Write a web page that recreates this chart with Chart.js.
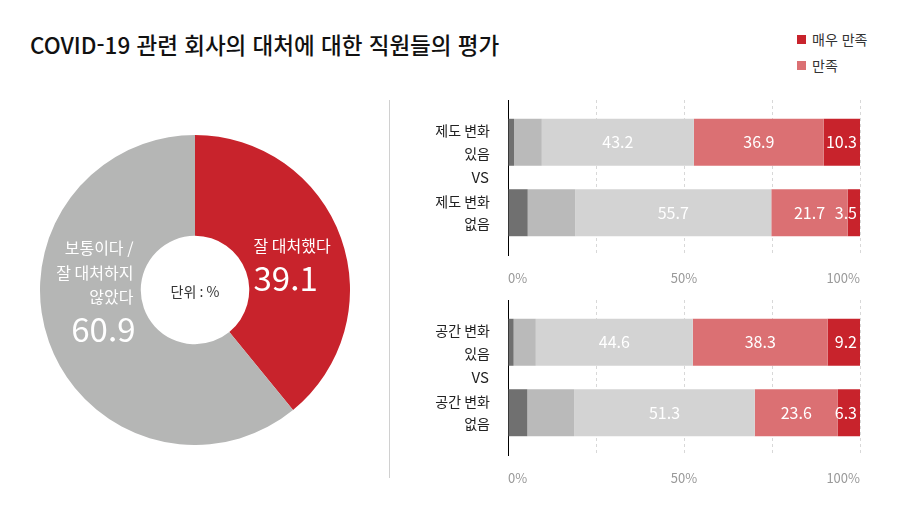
<!DOCTYPE html>
<html lang="ko">

<head>
    <meta charset="UTF-8">
    <title>COVID-19 관련 회사의 대처에 대한 직원들의 평가</title>
    <script src="https://cdn.jsdelivr.net/npm/chart.js"></script>
    <style>
        body {
            margin: 0;
            width: 900px;
            height: 510px;
            background: #fff;
            font-family: "Noto Sans CJK KR", sans-serif;
            position: relative;
            overflow: hidden;
        }

        #title {
            position: absolute;
            left: 30px;
            top: 28px;
            font-size: 22.5px;
            font-weight: 500;
            color: #111;
        }

        #legend {
            position: absolute;
            left: 797px;
            top: 29px;
            font-size: 14px;
            color: #333;
        }

        #legend div {
            height: 26px;
            line-height: 20px;
        }

        #legend span {
            display: inline-block;
            width: 9px;
            height: 9px;
            margin-right: 6px;
            vertical-align: 1px;
        }

        #divider {
            position: absolute;
            left: 389px;
            top: 100px;
            width: 1px;
            height: 378px;
            background: #d0d0d0;
        }

        canvas {
            position: absolute;
        }
    </style>
</head>

<body>
    <div id="title">COVID-19 관련 회사의 대처에 대한 직원들의 평가</div>
    <div id="legend"></div>
    <div id="divider"></div>
    <canvas id="pieChart" width="310" height="310" style="left:40px; top:135px;"></canvas>
    <canvas id="policyChart" width="465" height="190" style="left:400px; top:100px;"></canvas>
    <canvas id="spaceChart" width="465" height="190" style="left:400px; top:300px;"></canvas>

    <script>
        // pie: overall evaluation (%)
        const pieLabels = [['잘 대처했다'], ['보통이다 /', '잘 대처하지', '않았다']];
        const pieValues = [39.1, 60.9];
        const unitLabel = '단위 : %';

        // bars: satisfaction by change (%)
        const segmentNames = ['매우 불만족', '불만족', '보통', '만족', '매우 만족'];
        const policyCats = [['제도 변화', '있음'], ['제도 변화', '없음']];
        const spaceCats = [['공간 변화', '있음'], ['공간 변화', '없음']];
        const policyYes = [1.7, 7.9, 43.2, 36.9, 10.3];
        const policyNo = [5.6, 13.5, 55.7, 21.7, 3.5];
        const spaceYes = [1.6, 6.3, 44.6, 38.3, 9.2];
        const spaceNo = [5.5, 13.3, 51.3, 23.6, 6.3];
        const xTicks = [0, 50, 100];
        const vsLabel = 'VS';
        const legendNames = ['매우 만족', '만족'];

        const segmentColors = ['#707070', '#bababa', '#d3d3d3', '#db7073', '#c8232c'];
        const pieColors = ['#c8232c', '#b5b6b5'];
        const labeledSegments = [2, 3, 4];

        Chart.defaults.font.family = '"Noto Sans CJK KR", sans-serif';

        // pie labels, placed from each arc's centroid
        const labelOffsets = [
            { dx: -40, dy: -9, align: 'left' },
            { dx: 37, dy: -77, align: 'right' }
        ];
        const pieLabelPlugin = {
            id: 'pieLabels',
            afterDatasetsDraw(chart) {
                const ctx = chart.ctx;
                const meta = chart.getDatasetMeta(0);
                ctx.save();
                ctx.fillStyle = '#fff';
                ctx.textBaseline = 'middle';
                meta.data.forEach((arc, i) => {
                    const p = arc.tooltipPosition();
                    const off = labelOffsets[i];
                    const x = p.x + off.dx;
                    let y = p.y + off.dy;
                    ctx.textAlign = off.align;
                    ctx.font = '16px "Noto Sans CJK KR"';
                    pieLabels[i].forEach(line => {
                        ctx.fillText(line, x, y);
                        y += 24.5;
                    });
                    ctx.font = '33px "Noto Sans CJK KR"';
                    ctx.fillText(pieValues[i].toFixed(1), x + (off.align === 'left' ? 0 : 2), y + 8);
                });
                // unit in the hole
                const c = meta.data[0];
                ctx.fillStyle = '#333';
                ctx.textAlign = 'center';
                ctx.font = '14px "Noto Sans CJK KR"';
                ctx.fillText(unitLabel, c.x, c.y + 2);
                ctx.restore();
            }
        };

        new Chart(document.getElementById('pieChart'), {
            type: 'doughnut',
            data: {
                labels: pieLabels.map(l => l.join(' ')),
                datasets: [{
                    data: pieValues,
                    backgroundColor: pieColors,
                    borderWidth: 0
                }]
            },
            options: {
                responsive: false,
                animation: false,
                cutout: '35%',
                layout: { padding: 0 },
                plugins: {
                    legend: { display: false },
                    tooltip: { enabled: false }
                }
            },
            plugins: [pieLabelPlugin]
        });

        const barLabelPlugin = {
            id: 'barLabels',
            afterDatasetsDraw(chart) {
                const ctx = chart.ctx;
                ctx.save();
                ctx.fillStyle = '#fff';
                ctx.font = '16px "Noto Sans CJK KR"';
                ctx.textBaseline = 'middle';
                labeledSegments.forEach(di => {
                    const meta = chart.getDatasetMeta(di);
                    meta.data.forEach((bar, i) => {
                        const v = chart.data.datasets[di].data[i];
                        if (di === segmentNames.length - 1) {
                            ctx.textAlign = 'right';
                            ctx.fillText(v.toFixed(1), bar.x - 3, bar.y);
                        } else {
                            ctx.textAlign = 'center';
                            ctx.fillText(v.toFixed(1), (bar.base + bar.x) / 2, bar.y);
                        }
                    });
                });
                // VS between the two rows
                const y = chart.scales.y;
                const mid = (y.getPixelForTick(0) + y.getPixelForTick(1)) / 2;
                ctx.fillStyle = '#222';
                ctx.font = '15px "Noto Sans CJK KR"';
                ctx.textAlign = 'right';
                ctx.fillText(vsLabel, chart.chartArea.left - 19, mid);
                ctx.restore();
            }
        };

        function makeBars(id, cats, rows) {
            const datasets = segmentNames.map((name, s) => ({
                label: name,
                data: rows.map(r => r[s]),
                backgroundColor: segmentColors[s],
                borderWidth: 0,
                barPercentage: 0.667,
                categoryPercentage: 1
            }));
            return new Chart(document.getElementById(id), {
                type: 'bar',
                data: { labels: cats, datasets: datasets },
                options: {
                    indexAxis: 'y',
                    responsive: false,
                    animation: false,
                    layout: { padding: { top: 0, right: 5, left: 0, bottom: 0 } },
                    scales: {
                        x: {
                            stacked: true,
                            min: 0,
                            max: 100,
                            afterFit: s => {
                                s.height = 35;
                                s.paddingLeft = 0;
                                s.paddingRight = 0;
                            },
                            ticks: {
                                stepSize: 25,
                                align: 'inner',
                                padding: 15,
                                color: '#999',
                                font: { size: 13 },
                                callback: v => xTicks.includes(v) ? v + '%' : ''
                            },
                            grid: { color: '#d8d8d8', drawTicks: false },
                            border: { display: false, dash: [3, 3] }
                        },
                        y: {
                            stacked: true,
                            // a bit more room above and below the two rows
                            afterBuildTicks: s => {
                                s._startValue = -0.6;
                                s._valueRange = 2.2;
                            },
                            afterFit: s => {
                                s.width = 108;
                                s.paddingTop = 0;
                                s.paddingBottom = 0;
                            },
                            ticks: {
                                color: '#222',
                                padding: 18,
                                font: { size: 14, lineHeight: 1.6 }
                            },
                            grid: { display: false, drawTicks: false },
                            border: { display: true, color: '#000', width: 1 }
                        }
                    },
                    plugins: {
                        legend: { display: false },
                        tooltip: { enabled: false }
                    }
                },
                plugins: [barLabelPlugin]
            });
        }

        const policyChart = makeBars('policyChart', policyCats, [policyYes, policyNo]);
        makeBars('spaceChart', spaceCats, [spaceYes, spaceNo]);

        // legend built from the chart's own datasets
        const legend = document.getElementById('legend');
        policyChart.data.datasets
            .filter(d => legendNames.includes(d.label))
            .reverse()
            .forEach(d => {
                const row = document.createElement('div');
                row.innerHTML = `<span style="background:${d.backgroundColor}"></span>${d.label}`;
                legend.appendChild(row);
            });
    </script>
</body>

</html>
